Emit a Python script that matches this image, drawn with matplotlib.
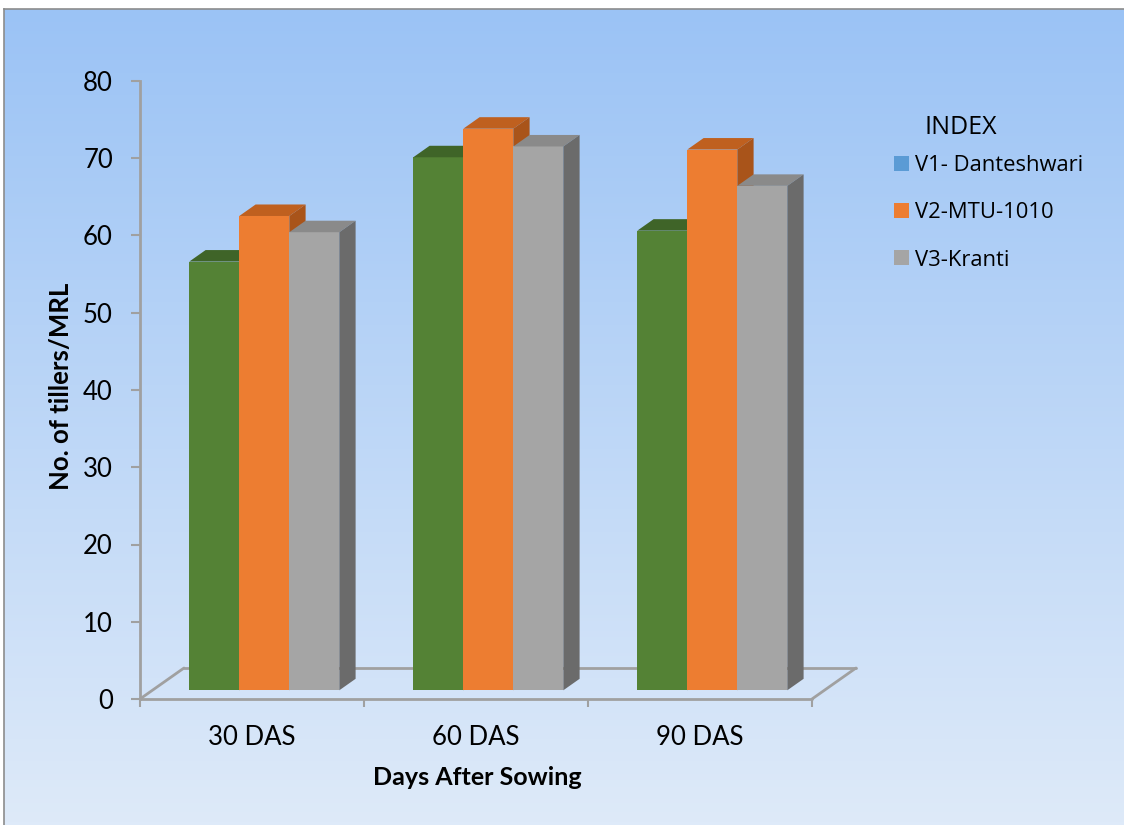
import numpy as np
import matplotlib
matplotlib.use("Agg")
import matplotlib.pyplot as plt
from matplotlib.patches import Polygon, Patch
from matplotlib.lines import Line2D

plt.rcParams['font.family'] = ['Lato', 'DejaVu Sans']

# data
stages = ["30 DAS", "60 DAS", "90 DAS"]
varieties = ["V1- Danteshwari", "V2-MTU-1010", "V3-Kranti"]
v1 = [55.5, 69.0, 59.5]
v2 = [61.4, 72.7, 70.0]
v3 = [59.3, 70.4, 65.3]
series = [v1, v2, v3]

# face colours: front, top, side
front_cols = ["#548235", "#ed7d31", "#a5a5a5"]
top_cols = ["#3f6428", "#bf601f", "#8a8a8a"]
side_cols = ["#3a5c24", "#a9541a", "#6b6b6b"]
legend_cols = ["#5b9bd5", "#ed7d31", "#a5a5a5"]

W, H = 1124, 825
fig = plt.figure(figsize=(W / 100, H / 100), dpi=100)
fig.patch.set_facecolor("white")

# gradient background
bg = fig.add_axes([4 / W, 0, 1 - 4 / W, (H - 9) / H], zorder=-10)
grad = np.linspace(0, 1, 256).reshape(-1, 1)
top_rgb = np.array([0x9b, 0xc3, 0xf5]) / 255
bot_rgb = np.array([0xde, 0xea, 0xf9]) / 255
img = top_rgb + (bot_rgb - top_rgb) * grad[:, :, None]
bg.imshow(img, aspect="auto", extent=[0, 1, 0, 1], origin="upper")
bg.set_axis_off()
fig.add_artist(Line2D([4 / W, 4 / W], [0, (H - 9) / H], color="#8c8c8c", lw=1.2))
fig.add_artist(Line2D([4 / W, 1], [(H - 9) / H, (H - 9) / H], color="#8c8c8c", lw=1.2))

ax = fig.add_axes([140 / W, (H - 699) / H, 672 / W, 618 / H])
ax.set_xlim(-0.5, 2.5)
ax.set_ylim(0, 80)
ax.patch.set_visible(False)

# pixel -> data conversion for the depth effect
px_x = 672 / 3.0
px_y = 618 / 80.0
floor_dx, floor_dy = 44 / px_x, 31 / px_y
front_dx, front_dy = 12.3 / px_x, 8.7 / px_y
bar_dx, bar_dy = 16.3 / px_x, 11.5 / px_y
bw = 50 / px_x

# floor
fl = dict(color="#a0a0a0", lw=2, clip_on=False, zorder=2, solid_capstyle="round")
ax.plot([-0.5, 2.5], [0, 0], **fl)
ax.plot([2.5, 2.5 + floor_dx], [0, floor_dy], **fl)
ax.plot([-0.5 + floor_dx, 2.5 + floor_dx], [floor_dy, floor_dy], **fl)
ax.plot([-0.5, -0.5 + floor_dx], [0, floor_dy], **fl)

x = np.arange(len(stages))
for i, vals in enumerate(series):
    xs = x + (i - 1) * bw + front_dx
    z = 3 + i
    ax.bar(xs, vals, width=bw, bottom=front_dy, color=front_cols[i],
           zorder=z, clip_on=False)
    for xc, v in zip(xs, vals):
        x0, x1 = xc - bw / 2, xc + bw / 2
        yt = v + front_dy
        ax.add_patch(Polygon([(x0, yt), (x1, yt), (x1 + bar_dx, yt + bar_dy),
                              (x0 + bar_dx, yt + bar_dy)], closed=True,
                             fc=top_cols[i], ec="none", zorder=z, clip_on=False))
        ax.add_patch(Polygon([(x1, front_dy), (x1, yt), (x1 + bar_dx, yt + bar_dy),
                              (x1 + bar_dx, front_dy + bar_dy)], closed=True,
                             fc=side_cols[i], ec="none", zorder=z, clip_on=False))

# axes styling
for s in ["top", "right", "bottom"]:
    ax.spines[s].set_visible(False)
ax.spines["left"].set_color("#a0a0a0")
ax.spines["left"].set_linewidth(2)
ax.set_yticks(np.arange(0, 81, 10))
ax.tick_params(axis="y", direction="out", length=6.5, width=1.5, color="#a0a0a0",
               pad=13, labelsize=18.5)
ax.set_xticks(x)
ax.set_xticklabels(stages)
ax.set_xticks([-0.5, 0.5, 1.5, 2.5], minor=True)
ax.tick_params(axis="x", which="major", length=0, pad=19, labelsize=18.5)
ax.tick_params(axis="x", which="minor", direction="out", length=6, width=1.5,
               color="#a0a0a0")

ax.set_ylabel("No. of tillers/MRL", fontsize=18.5, fontweight="bold")
ax.yaxis.set_label_coords(-0.0997, 0.506)
ax.set_xlabel("Days After Sowing", fontsize=18, fontweight="bold")
ax.xaxis.set_label_coords(0.5015, -0.108)

# legend
leg_font = ["Open Sans", "DejaVu Sans"]
fig.text(961 / W, 1 - 128 / H, "INDEX", ha="center", va="center",
         family=leg_font, fontsize=18)
handles = [Patch(fc=c, ec="none") for c in legend_cols]
leg = fig.legend(handles, varieties, loc="upper left",
                 bbox_to_anchor=(883 / W, 1 - 144 / H), frameon=False,
                 prop={"family": leg_font, "size": 15.8}, borderpad=0,
                 handlelength=0.68, handleheight=0.68, handletextpad=0.3,
                 labelspacing=1.2)

fig.savefig("out.png", dpi=100)
